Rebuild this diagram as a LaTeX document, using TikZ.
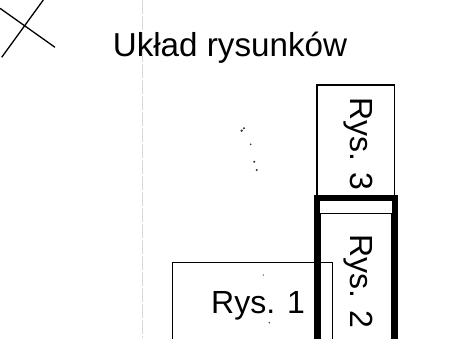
\documentclass[tikz,border=0pt]{standalone}
\usepackage{fontspec}
\setmainfont{Liberation Sans}
\begin{document}
\begin{tikzpicture}[x=1pt,y=-1pt,
  thinbox/.style={draw=black,line width=1.4pt},
  thickbox/.style={draw=black,line width=6.8pt},
  lbl/.style={inner sep=0pt,font=\fontsize{32}{38}\selectfont},
  speck/.style={fill=black!80,draw=none},
  guide/.style={draw=black!15,line width=1pt,dash pattern=on 14pt off 2pt}]
\useasboundingbox (0,0) rectangle (453,338);
\clip (0,0) rectangle (453,338);
% faint scan guide
\draw[guide] (142,0) -- (142,338);
% cross mark
\coordinate (xa) at (0,8.3);
\coordinate (xb) at (55,47.3);
\coordinate (xc) at (43.3,0);
\coordinate (xd) at (1.7,57.3);
\draw[line width=1.3pt] (xa) -- (xb);
\draw[line width=1.3pt] (xc) -- (xd);
% title
\node[lbl,font=\fontsize{33.2}{40}\selectfont,anchor=base west] (title) at (112.6,56) {Układ rysunków};
% boxes
\draw[thinbox] (317,85) rectangle (394.5,198);
\draw[thinbox] (320,213.3) rectangle (391.5,350);
\draw[thinbox] (172.3,262.7) rectangle (332.7,350);
\draw[thickbox] (317,198) rectangle (395,350);
% labels
\node[lbl,anchor=base west] (rys1) at (211,313.3) {Rys. 1};
\node[lbl,anchor=base west,rotate=-90] (rys3) at (350.7,96.8) {Rys. 3};
\node[lbl,anchor=base west,rotate=-90] (rys2) at (350.7,234.2) {Rys. 2};
% scan specks
\fill[speck] (241.7,130.7) circle (1.3);
\fill[speck] (244,128.3) circle (1.1);
\fill[speck] (250.7,144.3) circle (0.9);
\fill[speck] (254.3,161.7) circle (1.1);
\fill[speck] (256.7,170) circle (1.1);
\fill[speck] (263.3,275) circle (0.7);
\fill[speck] (269.3,322.7) circle (0.8);
\end{tikzpicture}
\end{document}
